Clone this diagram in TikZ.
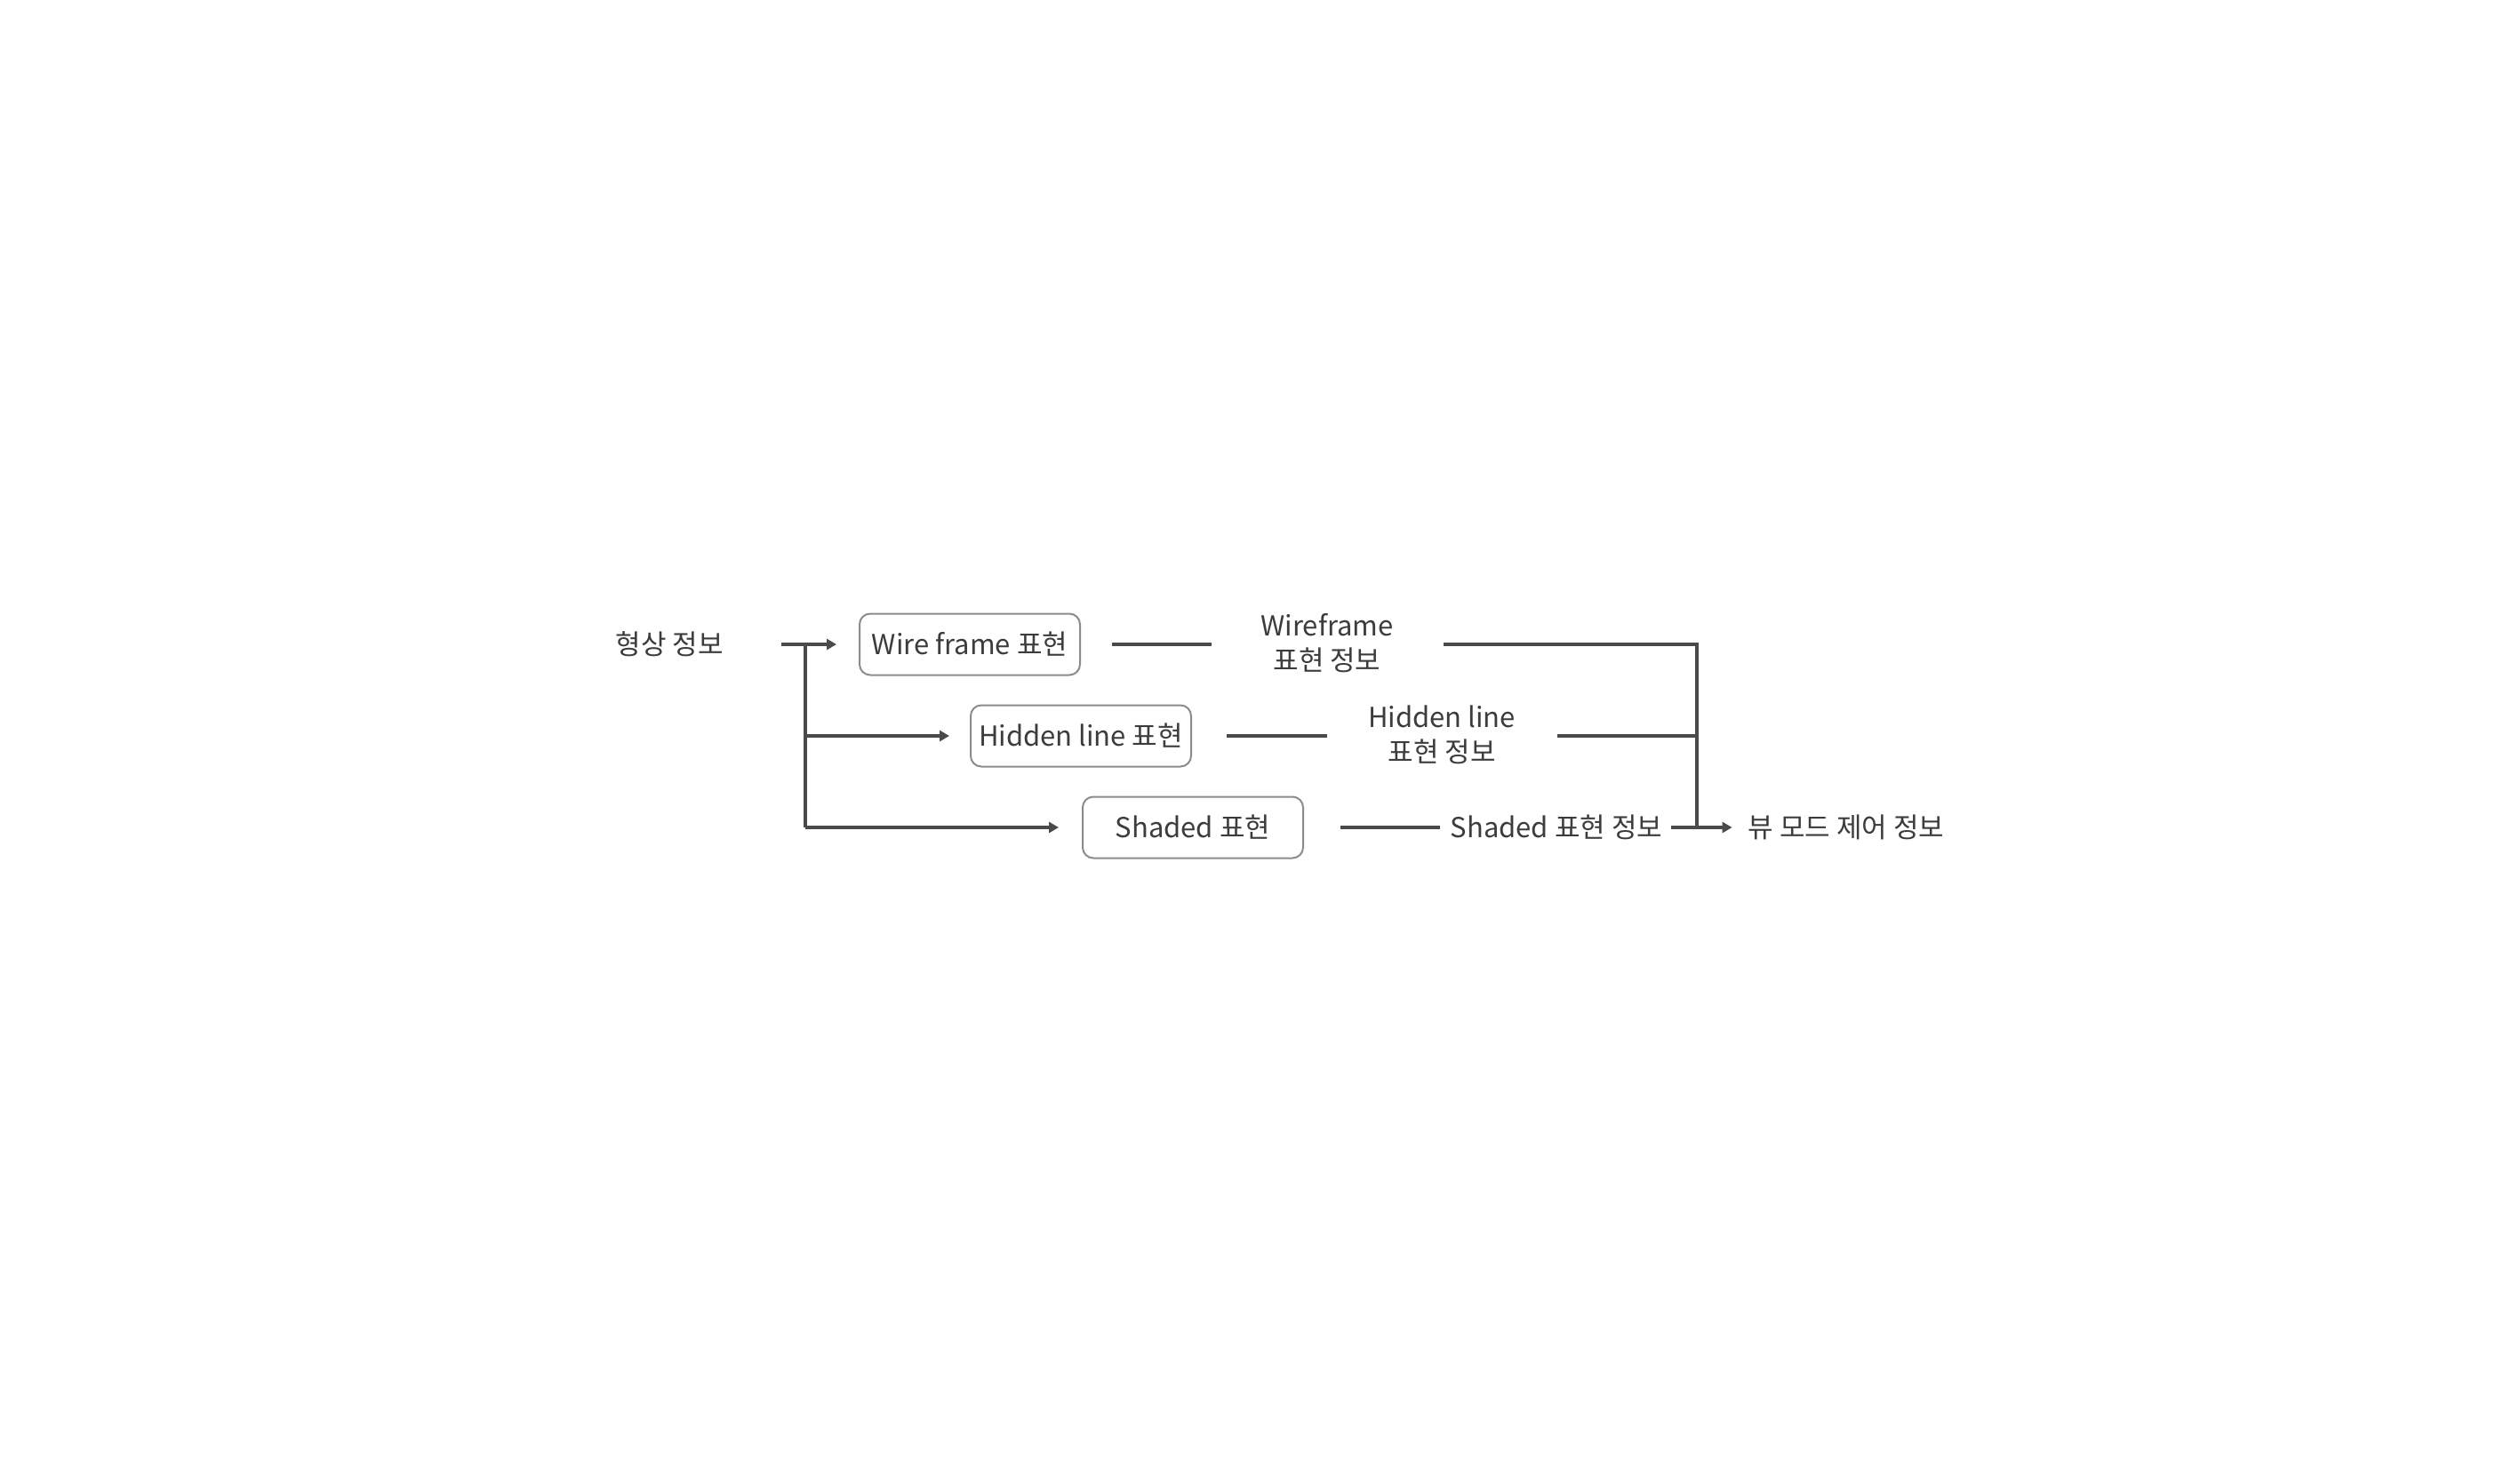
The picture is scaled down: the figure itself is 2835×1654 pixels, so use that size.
\documentclass[tikz,border=0pt]{standalone}
\usepackage{fontspec}
\setmainfont{Noto Sans CJK KR}
\usetikzlibrary{arrows.meta}
\definecolor{ink}{HTML}{3C3C3C}
\definecolor{linec}{HTML}{4A4A4A}
\definecolor{boxc}{HTML}{8C8C8C}
\begin{document}
\begin{tikzpicture}[x=1pt,y=-1pt,
  every node/.style={font=\fontsize{31}{39}\selectfont, text=ink, inner sep=0pt},
  repbox/.style={draw=boxc, line width=2pt, rounded corners=12pt, minimum width=248pt, minimum height=69pt},
  lbl/.style={align=center},
  conn/.style={draw=linec, line width=4pt},
  arr/.style={conn, -{Triangle[length=11pt,width=12pt]}}]
\fill[white] (0,0) rectangle (2835,1654);
\useasboundingbox (0,0) rectangle (2835,1654);
\begin{scope}[shift={(0,2)}]
\node (src) at (753,723) {형상 정보};
\node[repbox] (wf) at (1091,723) {Wire frame 표현};
\node[repbox] (hl) at (1216,826) {Hidden line 표현};
\node[repbox] (sh) at (1342,929) {Shaded 표현};
\node[lbl] (wfi) at (1493,722) {Wireframe\\표현 정보};
\node[lbl] (hli) at (1622,825) {Hidden line\\표현 정보};
\node (shi) at (1751,929) {Shaded 표현 정보};
\node (out) at (2077,929) {뷰 모드 제어 정보};

\coordinate (s0) at (879,723);
\coordinate (sp1) at (906,723);
\coordinate (sp2) at (906,826);
\coordinate (sp3) at (906,929);
\coordinate (w1) at (1251,723);
\coordinate (w2) at (1363,723);
\coordinate (w3) at (1624,723);
\coordinate (h1) at (1380,826);
\coordinate (h2) at (1493,826);
\coordinate (h3) at (1752,826);
\coordinate (c1) at (1508,929);
\coordinate (c2) at (1620,929);
\coordinate (c3) at (1880,929);
\coordinate (m1) at (1909,723);
\coordinate (m2) at (1909,826);
\coordinate (m3) at (1909,929);

\draw[arr] (s0) -- ([xshift=-25pt]wf.west);
\draw[conn] (sp1) -- (sp3);
\draw[arr] (sp2) -- ([xshift=-23pt]hl.west);
\draw[arr] (sp3) -- ([xshift=-26pt]sh.west);
\draw[conn] (w1) -- (w2);
\draw[conn] (h1) -- (h2);
\draw[conn] (c1) -- (c2);
\draw[conn, line join=miter] (w3) -- (m1) -- (m3);
\draw[conn] (h3) -- (m2);
\draw[arr] (c3) -- ([xshift=-18pt]out.west);
\end{scope}
\end{tikzpicture}
\end{document}
